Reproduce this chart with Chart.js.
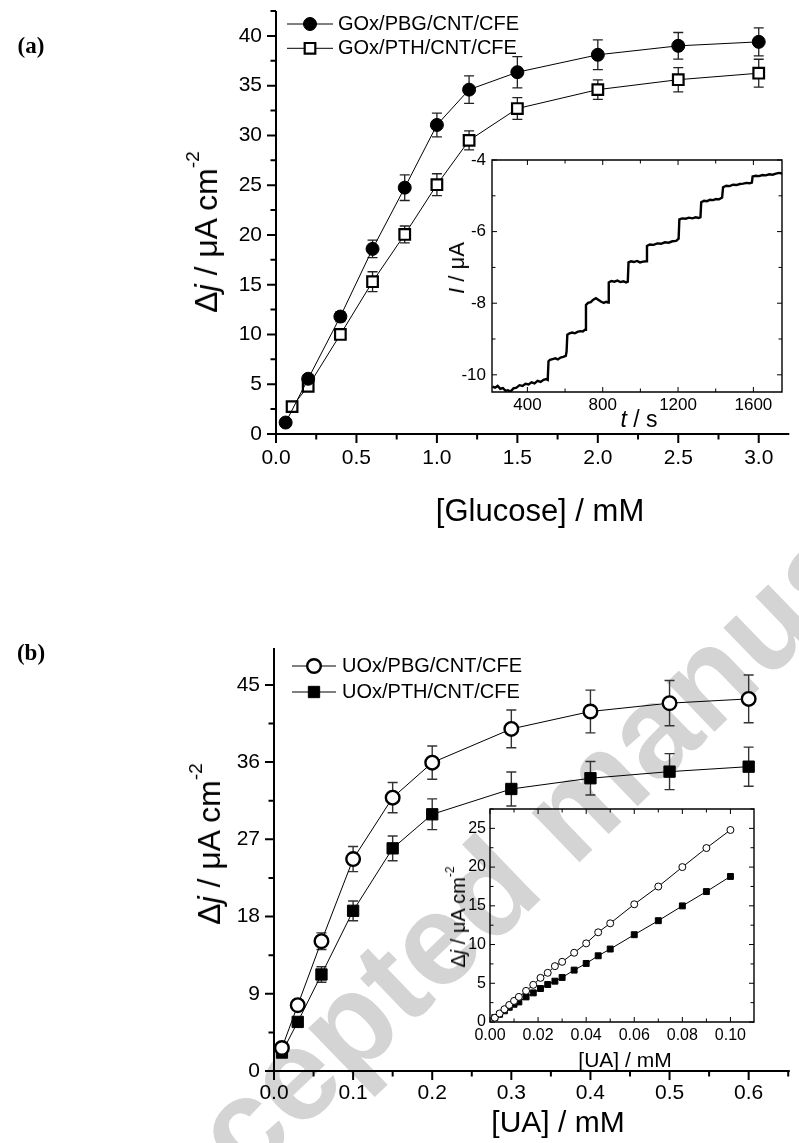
<!DOCTYPE html>
<html>
<head>
<meta charset="utf-8">
<title>Glucose / UA response</title>
<script src="https://cdn.jsdelivr.net/npm/chart.js@4.4.1/dist/chart.umd.min.js"></script>
<style>
  html, body { margin: 0; padding: 0; background: #fff; }
  #page { position: relative; width: 799px; height: 1143px; overflow: hidden; background: #fff;
          font-family: 'Liberation Sans', Arial, sans-serif; color: #000; }
  canvas { position: absolute; }
  .lbl { position: absolute; white-space: nowrap; line-height: 1; transform: translate(-50%, -50%); }
  .rot { transform: translate(-50%, -50%) rotate(-90deg); }
  .panel { font-family: 'Liberation Serif', serif; font-weight: bold; font-size: 23px; }
  .sup { font-size: 0.6em; position: relative; top: -0.95em; }
</style>
</head>
<body>
<div id="page">
  <canvas id="wm" width="799" height="1143" style="left:0;top:0"></canvas>
  <canvas id="mainA" width="799" height="560" style="left:0;top:0"></canvas>
  <canvas id="insetA" width="399" height="320" style="left:400px;top:130px"></canvas>
  <canvas id="mainB" width="799" height="543" style="left:0;top:600px"></canvas>
  <canvas id="insetB" width="399" height="300" style="left:400px;top:780px"></canvas>

  <div class="lbl panel" style="left:31px;top:45px">(a)</div>
  <div class="lbl panel" style="left:31px;top:652px">(b)</div>

  <div class="lbl rot" style="left:206px;top:232px;font-size:32px">&Delta;<i>j</i> / &mu;A cm<span class="sup">-2</span></div>
  <div class="lbl" style="left:540px;top:510px;font-size:31px">[Glucose] / mM</div>
  <div class="lbl rot" style="left:457px;top:268px;font-size:22px"><i>I</i> / &mu;A</div>
  <div class="lbl" style="left:639px;top:419px;font-size:23px"><i>t</i> / s</div>

  <div class="lbl rot" style="left:209px;top:844px;font-size:32px">&Delta;<i>j</i> / &mu;A cm<span class="sup">-2</span></div>
  <div class="lbl" style="left:558px;top:1122px;font-size:30px">[UA] / mM</div>
  <div class="lbl rot" style="left:458px;top:917px;font-size:20px">&Delta;<i>j</i> / &mu;A cm<span class="sup">-2</span></div>
  <div class="lbl" style="left:625px;top:1059px;font-size:21px">[UA] / mM</div>
</div>

<script>
// --- Data ---

// (a) calibration curves, glucose
const glucosePbgX   = [0.06, 0.2, 0.4, 0.6, 0.8, 1.0, 1.2, 1.5, 2.0, 2.5, 3.0];
const glucosePbgY   = [1.15, 5.55, 11.8, 18.6, 24.75, 31.05, 34.6, 36.35, 38.1, 39.0, 39.4];
const glucosePbgErr = [0.3, 0.4, 0.5, 0.88, 1.29, 1.19, 1.39, 1.57, 1.49, 1.34, 1.4];
const glucosePthX   = [0.1, 0.2, 0.4, 0.6, 0.8, 1.0, 1.2, 1.5, 2.0, 2.5, 3.0];
const glucosePthY   = [2.75, 4.8, 10.0, 15.3, 20.05, 25.05, 29.5, 32.7, 34.6, 35.6, 36.25];
const glucosePthErr = [0.3, 0.35, 0.4, 1.0, 0.85, 1.1, 0.95, 1.09, 0.98, 1.22, 1.4];
const glucoseTicks  = [0, 0.5, 1.0, 1.5, 2.0, 2.5, 3.0];
const glucoseJTicks = [0, 5, 10, 15, 20, 25, 30, 35, 40];

// (a) inset, amperometric trace
const traceT = [214, 228, 242, 256, 270, 284, 296, 310, 326, 342, 358, 374, 390, 406, 422, 438, 454, 470, 486, 500, 508,
  512, 520, 534, 548, 562, 576, 590, 604, 608,
  612, 624, 638, 652, 666, 680, 694, 706,
  711, 722, 736, 750, 764, 778, 792, 806, 818, 828,
  832, 846, 862, 878, 894, 910, 924, 933,
  937, 950, 966, 982, 998, 1014, 1030,
  1035, 1050, 1070, 1090, 1110, 1130, 1150, 1170, 1190, 1203,
  1207, 1222, 1240, 1258, 1276, 1294, 1310, 1319,
  1323, 1338, 1354, 1370, 1386, 1402, 1418, 1434,
  1439, 1456, 1474, 1492, 1510, 1528, 1546, 1564, 1580, 1592,
  1596, 1612, 1630, 1648, 1666, 1684, 1702, 1720, 1736, 1752];
const traceI = [-10.33, -10.36, -10.31, -10.39, -10.37, -10.45, -10.43, -10.47, -10.38, -10.36, -10.29, -10.31, -10.25, -10.27, -10.21, -10.24, -10.17, -10.20, -10.14, -10.12, -10.14,
  -9.62, -9.58, -9.56, -9.54, -9.57, -9.52, -9.50, -9.47, -9.35,
  -8.88, -8.84, -8.82, -8.84, -8.80, -8.78, -8.79, -8.74,
  -8.05, -7.99, -7.97, -7.90, -7.86, -7.91, -7.96, -7.99, -7.96, -7.98,
  -7.42, -7.38, -7.40, -7.37, -7.41, -7.39, -7.42, -7.40,
  -6.86, -6.83, -6.85, -6.82, -6.86, -6.84, -6.83,
  -6.40, -6.36, -6.37, -6.33, -6.34, -6.30, -6.31, -6.27, -6.26, -6.20,
  -5.66, -5.63, -5.64, -5.61, -5.63, -5.60, -5.62, -5.60,
  -5.18, -5.14, -5.15, -5.11, -5.12, -5.09, -5.10, -5.05,
  -4.76, -4.72, -4.73, -4.69, -4.70, -4.67, -4.66, -4.64, -4.65, -4.63,
  -4.46, -4.44, -4.45, -4.42, -4.43, -4.40, -4.41, -4.38, -4.36, -4.38];
const traceTTicks = [400, 800, 1200, 1600];
const traceITicks = [-10, -8, -6, -4];

// (b) calibration curves, uric acid
const uaX      = [0.01, 0.03, 0.06, 0.1, 0.15, 0.2, 0.3, 0.4, 0.5, 0.6];
const uaPbgY   = [2.68, 7.67, 15.13, 24.7, 31.86, 35.94, 39.87, 41.9, 42.87, 43.37];
const uaPbgErr = [0.3, 0.4, 0.97, 1.46, 1.77, 1.94, 2.2, 2.49, 2.64, 2.78];
const uaPthY   = [2.15, 5.72, 11.25, 18.67, 25.95, 29.92, 32.87, 34.12, 34.89, 35.47];
const uaPthErr = [0.3, 0.4, 0.9, 1.15, 1.44, 1.79, 1.98, 1.96, 2.1, 2.28];
const uaTicks  = [0, 0.1, 0.2, 0.3, 0.4, 0.5, 0.6];
const uaJTicks = [0, 9, 18, 27, 36, 45];

// (b) inset, linear range
const uaLowX   = [0.002, 0.004, 0.006, 0.008, 0.010, 0.012, 0.015, 0.018, 0.021, 0.024, 0.027, 0.030, 0.035, 0.040, 0.045, 0.050, 0.060, 0.070, 0.080, 0.090, 0.100];
const uaLowPbg = [0.55, 1.1, 1.65, 2.2, 2.72, 3.24, 4.02, 4.8, 5.7, 6.35, 7.21, 7.77, 8.94, 10.15, 11.58, 12.74, 15.2, 17.49, 20.0, 22.46, 24.79];
const uaLowPth = [0.57, 1.0, 1.45, 1.9, 2.29, 2.59, 3.24, 3.76, 4.32, 4.84, 5.27, 5.75, 6.7, 7.56, 8.55, 9.42, 11.27, 13.08, 14.99, 16.84, 18.79];
const uaLowTicks  = [0, 0.02, 0.04, 0.06, 0.08, 0.10];
const uaLowJTicks = [0, 5, 10, 15, 20, 25];

// --- Helpers / plugins ---
Chart.defaults.font.family = "'Liberation Sans', Arial, sans-serif";
Chart.defaults.color = '#000';

const pts = (xs, ys) => xs.map((x, i) => ({ x: x, y: ys[i] }));

function tickValues(min, max, step) {
    const out = [];
    for (let k = Math.ceil(min / step - 1e-9); k * step <= max + 1e-9; k++) out.push(k * step);
    return out;
}
const isMajor = (v, major) => Math.abs(v / major - Math.round(v / major)) < 1e-6;

// axis lines plus major/minor ticks (outward for main plots, inward box for insets)
const frameAxes = {
    id: 'frameAxes',
    beforeDatasetsDraw(chart, args, o) {
        if (!o.xMinor) return;
        const { ctx, chartArea: a, scales: { x, y } } = chart;
        const dir = o.inward ? -1 : 1;
        ctx.save();
        ctx.strokeStyle = '#000';
        ctx.lineWidth = o.axisWidth;
        ctx.beginPath();
        if (o.box) {
            ctx.rect(a.left, a.top, a.right - a.left, a.bottom - a.top);
        } else {
            ctx.moveTo(a.left, a.top);
            ctx.lineTo(a.left, a.bottom);
            ctx.lineTo(a.right, a.bottom);
        }
        ctx.stroke();

        ctx.lineWidth = o.tickWidth;
        ctx.beginPath();
        tickValues(x.min, x.max, o.xMinor).forEach(v => {
            const len = isMajor(v, o.xMajor) ? o.majorLen : o.minorLen;
            const px = x.getPixelForValue(v);
            ctx.moveTo(px, a.bottom); ctx.lineTo(px, a.bottom + dir * len);
            if (o.box) { ctx.moveTo(px, a.top); ctx.lineTo(px, a.top - dir * len); }
        });
        tickValues(y.min, y.max, o.yMinor).forEach(v => {
            const len = isMajor(v, o.yMajor) ? o.majorLen : o.minorLen;
            const py = y.getPixelForValue(v);
            ctx.moveTo(a.left, py); ctx.lineTo(a.left - dir * len, py);
            if (o.box) { ctx.moveTo(a.right, py); ctx.lineTo(a.right + dir * len, py); }
        });
        ctx.stroke();
        ctx.restore();
    }
};

const errorBars = {
    id: 'errorBars',
    beforeDatasetsDraw(chart, args, o) {
        if (!o.sets) return;
        const { ctx, scales: { x, y } } = chart;
        ctx.save();
        ctx.strokeStyle = o.color;
        ctx.lineWidth = o.width;
        o.sets.forEach(s => {
            ctx.beginPath();
            chart.data.datasets[s.index].data.forEach((p, i) => {
                const px = x.getPixelForValue(p.x);
                const top = y.getPixelForValue(p.y + s.err[i]);
                const bot = y.getPixelForValue(p.y - s.err[i]);
                ctx.moveTo(px, top); ctx.lineTo(px, bot);
                ctx.moveTo(px - o.cap, top); ctx.lineTo(px + o.cap, top);
                ctx.moveTo(px - o.cap, bot); ctx.lineTo(px + o.cap, bot);
            });
            ctx.stroke();
        });
        ctx.restore();
    }
};

// legend drawn as "—●— label"
const lineLegend = {
    id: 'lineLegend',
    afterDatasetsDraw(chart, args, o) {
        if (!o.items) return;
        const ctx = chart.ctx;
        ctx.save();
        o.items.forEach((idx, i) => {
            const ds = chart.data.datasets[idx];
            const yy = o.y + i * o.gap;
            ctx.strokeStyle = '#000';
            ctx.lineWidth = 1;
            ctx.beginPath(); ctx.moveTo(o.x0, yy); ctx.lineTo(o.x1, yy); ctx.stroke();
            ctx.fillStyle = ds.pointBackgroundColor;
            ctx.strokeStyle = ds.pointBorderColor;
            ctx.lineWidth = ds.pointBorderWidth;
            Chart.helpers.drawPoint(ctx, { pointStyle: ds.pointStyle, radius: ds.pointRadius, borderWidth: ds.pointBorderWidth, rotation: 0 }, (o.x0 + o.x1) / 2, yy);
            ctx.fillStyle = '#000';
            ctx.font = o.font;
            ctx.textBaseline = 'middle';
            ctx.fillText(ds.label, o.textX, yy);
        });
        ctx.restore();
    }
};

Chart.register(frameAxes, errorBars, lineLegend);

// linear axis with fixed box size and explicit tick list
function axis(min, max, tickList, size, padding, fontSize, fmt) {
    return {
        type: 'linear', min: min, max: max,
        afterBuildTicks: s => { s.ticks = tickList.map(v => ({ value: v })); },
        afterFit: s => {
            if (s.isHorizontal()) s.height = size; else s.width = size;
            s.paddingTop = 0; s.paddingBottom = 0; s.paddingLeft = 0; s.paddingRight = 0;
        },
        grid: { display: false, drawTicks: false },
        border: { display: false },
        ticks: { padding: padding, autoSkip: false, maxRotation: 0,
                 color: '#000', font: { size: fontSize }, callback: fmt || (v => String(v)) }
    };
}

function baseOptions(pad, scales, plugins) {
    return {
        responsive: false, animation: false, events: [],
        layout: { padding: pad },
        scales: scales,
        plugins: Object.assign({ legend: { display: false }, tooltip: { enabled: false } }, plugins)
    };
}

const series = (label, xs, ys, style) => Object.assign({
    label: label, data: pts(xs, ys), showLine: true, borderColor: '#000', borderWidth: 1,
    pointBorderColor: '#000', tension: 0, clip: false
}, style);

// --- (a) main ---
new Chart(document.getElementById('mainA'), {
    type: 'scatter',
    data: { datasets: [
        series('GOx/PBG/CNT/CFE', glucosePbgX, glucosePbgY, { pointStyle: 'circle', pointRadius: 6.5, pointBackgroundColor: '#000', pointBorderWidth: 1 }),
        series('GOx/PTH/CNT/CFE', glucosePthX, glucosePthY, { pointStyle: 'rect', pointRadius: 7.5, pointBackgroundColor: '#fff', pointBorderWidth: 2.2 })
    ]},
    options: baseOptions({ top: 11, right: 0, bottom: 0, left: 0 }, {
        x: axis(0, 3.19, glucoseTicks, 126, 12, 21, v => v.toFixed(1)),
        y: axis(0, 42.5, glucoseJTicks, 276, 14, 21)
    }, {
        frameAxes: { xMinor: 0.25, xMajor: 0.5, yMinor: 2.5, yMajor: 5, majorLen: 9, minorLen: 5.5, axisWidth: 2, tickWidth: 2 },
        errorBars: { color: '#222', width: 1.3, cap: 5, sets: [{ index: 0, err: glucosePbgErr }, { index: 1, err: glucosePthErr }] },
        lineLegend: { items: [0, 1], x0: 287, x1: 333, textX: 338, y: 24, gap: 24.3, font: "20px 'Liberation Sans', Arial, sans-serif" }
    })
});

// --- (a) inset ---
new Chart(document.getElementById('insetA'), {
    type: 'scatter',
    data: { datasets: [
        { data: pts(traceT, traceI), showLine: true, borderColor: '#000', borderWidth: 2.4, pointRadius: 0, tension: 0 }
    ]},
    options: baseOptions({ top: 30, right: 17, bottom: 0, left: 0 }, {
        x: axis(212, 1752, traceTTicks, 58, 3, 17),
        y: axis(-10.48, -4, traceITicks, 92, 6, 17)
    }, {
        frameAxes: { box: true, inward: true, xMinor: 200, xMajor: 400, yMinor: 1, yMajor: 2, majorLen: 5, minorLen: 3.5, axisWidth: 1.4, tickWidth: 1 }
    })
});

// --- (b) main ---
new Chart(document.getElementById('mainB'), {
    type: 'scatter',
    data: { datasets: [
        series('UOx/PBG/CNT/CFE', uaX, uaPbgY, { pointStyle: 'circle', pointRadius: 6.8, pointBackgroundColor: '#fff', pointBorderWidth: 2.4 }),
        series('UOx/PTH/CNT/CFE', uaX, uaPthY, { pointStyle: 'rect', pointRadius: 8, pointBackgroundColor: '#000', pointBorderWidth: 1 })
    ]},
    options: baseOptions({ top: 48, right: 0, bottom: 0, left: 0 }, {
        x: axis(0, 0.652, uaTicks, 72, 10, 21, v => v.toFixed(1)),
        y: axis(0, 49.3, uaJTicks, 274, 14, 21)
    }, {
        frameAxes: { xMinor: 0.05, xMajor: 0.1, yMinor: 4.5, yMajor: 9, majorLen: 9, minorLen: 5.5, axisWidth: 2, tickWidth: 2 },
        errorBars: { color: '#333', width: 1.4, cap: 5, sets: [{ index: 0, err: uaPbgErr }, { index: 1, err: uaPthErr }] },
        lineLegend: { items: [0, 1], x0: 292, x1: 336, textX: 342, y: 66, gap: 26, font: "20px 'Liberation Sans', Arial, sans-serif" }
    })
});

// --- (b) inset ---
new Chart(document.getElementById('insetB'), {
    type: 'scatter',
    data: { datasets: [
        series('PBG', uaLowX, uaLowPbg, { pointStyle: 'circle', pointRadius: 3.5, pointBackgroundColor: '#fff', pointBorderWidth: 1 }),
        series('PTH', uaLowX, uaLowPth, { pointStyle: 'rect', pointRadius: 4.2, pointBackgroundColor: '#000', pointBorderWidth: 1 })
    ]},
    options: baseOptions({ top: 29, right: 45, bottom: 0, left: 0 }, {
        x: axis(0, 0.1098, uaLowTicks, 58, 4, 16, v => v.toFixed(2)),
        y: axis(0, 27.5, uaLowJTicks, 90, 4, 16)
    }, {
        frameAxes: { box: true, inward: true, xMinor: 0.01, xMajor: 0.02, yMinor: 2.5, yMajor: 5, majorLen: 5, minorLen: 3.5, axisWidth: 1.4, tickWidth: 1 }
    })
});

// --- watermark ---
const wm = document.getElementById('wm').getContext('2d');
wm.save();
wm.translate(126, 1300);
wm.rotate(-44 * Math.PI / 180);
wm.font = "bold 130px 'Liberation Sans', Arial, sans-serif";
wm.fillStyle = '#d4d4d4';
wm.fillText('Accepted manuscript', 0, 0);
wm.restore();
</script>
</body>
</html>
